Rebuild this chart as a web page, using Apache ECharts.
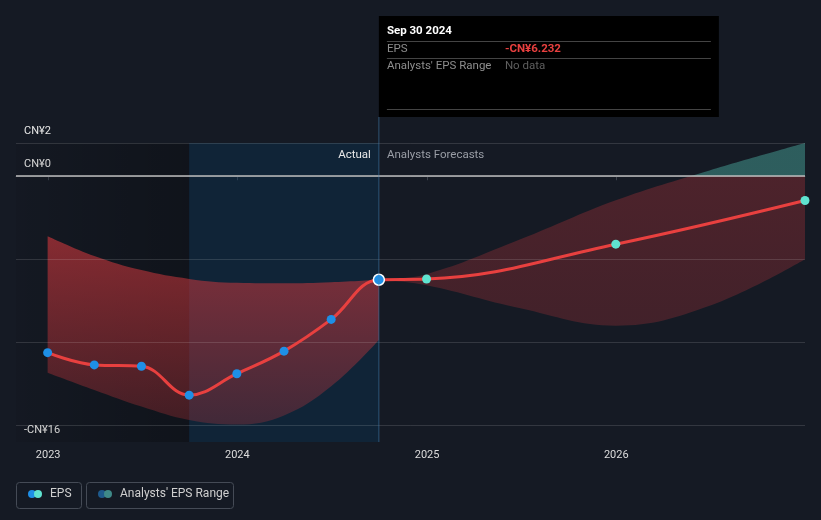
<!DOCTYPE html>
<html>
<head>
<meta charset="utf-8">
<script src="https://cdn.jsdelivr.net/npm/echarts@6/dist/echarts.min.js"></script>
<style>
  html, body { margin: 0; padding: 0; background: #151a24; }
  #chart { width: 821px; height: 520px; }
</style>
</head>
<body>
<div id="chart"></div>
<script>
  // EPS (CN¥) - reported quarters, then analyst forecasts
  var actualDates = ['2022-12-31', '2023-03-31', '2023-06-30', '2023-09-30', '2023-12-31', '2024-03-31', '2024-06-30', '2024-09-30'];
  var actualEps = [-10.62, -11.36, -11.44, -13.18, -11.89, -10.53, -8.62, -6.232];
  var forecastDates = ['2024-12-31', '2025-12-31', '2026-12-31'];
  var forecastEps = [-6.19, -4.09, -1.46];

  // analysts' range as it stood over the reported quarters
  var pastHigh = [-3.61, -4.8, -5.65, -6.18, -6.42, -6.45, -6.38, -6.23];
  var pastLow = [-11.83, -12.87, -13.87, -14.68, -14.95, -14.4, -12.65, -9.86];

  // analysts' range going forward
  var rangeDates = ['2024-09-30', '2024-12-31', '2025-06-30', '2025-12-31', '2026-06-30', '2026-12-31'];
  var rangeHigh = [-6.23, -5.9, -3.8, -1.45, 0.35, 2.0];
  var rangeLow = [-6.23, -6.56, -7.95, -9.0, -7.8, -5.0];

  var yLabelValues = [2, 0, -16];
  var gridValues = [2, -5, -10, -15];
  var xLabelYears = [2023, 2024, 2025, 2026];
  var hoverDate = '2024-09-30';
  var shadeFrom = '2023-09-30';
  var axisStart = '2022-10-31';

  function ts(s) {
    return Date.parse(s + 'T00:00:00Z');
  }
  function cny(v) {
    return v < 0 ? '-CN¥' + (-v) : 'CN¥' + v;
  }

  var BLUE = '#1e8fe6', TEAL = '#5fe3d0', RED = '#e8403f';
  var FONT = 'Roboto, "Noto Sans", sans-serif';

  var epsData = [];
  actualDates.forEach(function (d, i) {
    var p = { value: [ts(d), actualEps[i]], itemStyle: { color: BLUE } };
    if (d === hoverDate) {
      p.itemStyle = { color: BLUE, borderColor: '#ffffff', borderWidth: 1.5 };
      p.symbolSize = 11;
    }
    epsData.push(p);
  });
  forecastDates.forEach(function (d, i) {
    epsData.push({ value: [ts(d), forecastEps[i]], itemStyle: { color: TEAL } });
  });

  // band rows are [eps, date] so the stack runs on the eps values
  var pastLowData = actualDates.map(function (d, i) { return [pastLow[i], ts(d)]; });
  var pastBandData = actualDates.map(function (d, i) { return [pastHigh[i] - pastLow[i], ts(d)]; });
  var fcLowData = rangeDates.map(function (d, i) { return [rangeLow[i], ts(d)]; });
  var fcBandData = rangeDates.map(function (d, i) { return [rangeHigh[i] - rangeLow[i], ts(d)]; });
  var yearTicks = xLabelYears.map(function (y) { return Date.UTC(y, 0, 1); });

  var xMin = ts(axisStart);
  var xMax = ts(forecastDates[forecastDates.length - 1]);
  var xHover = ts(hoverDate);
  var xShade = ts(shadeFrom);

  var hidden = {
    lineStyle: { opacity: 0 }, symbol: 'none', smooth: 0.4, silent: true,
    encode: { x: 1, y: 0 }, stackStrategy: 'all', z: 2
  };

  var myChart = echarts.init(document.getElementById('chart'));
  var option = {
    backgroundColor: '#151a24',
    animation: false,
    grid: { left: 16, right: 16, top: 143, bottom: 78 },
    xAxis: {
      type: 'value',
      min: xMin,
      max: xMax,
      splitLine: { show: false },
      axisLine: { lineStyle: { color: '#3b414b' } },
      axisTick: { customValues: yearTicks, length: 4, lineStyle: { color: '#3b414b' } },
      axisLabel: {
        customValues: yearTicks,
        color: '#dcdcdc', fontSize: 11, fontFamily: FONT, margin: 8,
        formatter: function (v) { return String(new Date(v).getUTCFullYear()); }
      }
    },
    yAxis: {
      type: 'value',
      min: -16,
      max: 2,
      splitLine: { show: false },
      axisLine: { show: false },
      axisTick: { show: false },
      axisLabel: {
        customValues: yLabelValues,
        inside: true, margin: 8,
        verticalAlign: 'bottom',
        padding: [0, 0, 6, 0],
        color: '#e6e6e6', fontSize: 11, fontFamily: FONT,
        formatter: cny
      }
    },
    series: [
      {
        name: 'shade', type: 'line', data: [], z: 1, silent: true,
        markArea: {
          silent: true,
          data: [
            [{ xAxis: xMin, yAxis: 2, itemStyle: { color: {
                type: 'linear', x: 0, y: 0, x2: 1, y2: 0,
                colorStops: [{ offset: 0, color: 'rgba(0,0,0,0.06)' }, { offset: 1, color: 'rgba(0,0,0,0.26)' }]
              } } }, { xAxis: xShade, yAxis: -16 }],
            [{ xAxis: xShade, yAxis: 2, itemStyle: { color: 'rgba(8,60,100,0.3)' } }, { xAxis: xHover, yAxis: -16 }]
          ]
        }
      },
      Object.assign({ name: 'pastLow', type: 'line', stack: 'past', data: pastLowData }, hidden),
      Object.assign({
        name: 'pastBand', type: 'line', stack: 'past', data: pastBandData,
        areaStyle: { opacity: 1, color: {
          type: 'linear', x: 0, y: 0, x2: 0, y2: 1,
          colorStops: [{ offset: 0, color: 'rgba(205,55,60,0.62)' }, { offset: 1, color: 'rgba(205,55,60,0.26)' }]
        } }
      }, hidden),
      Object.assign({ name: 'fcLow', type: 'line', stack: 'fc', data: fcLowData }, hidden),
      Object.assign({
        name: 'fcBand', type: 'line', stack: 'fc', data: fcBandData,
        areaStyle: { opacity: 1, color: 'rgba(205,55,60,0.3)' }
      }, hidden),
      {
        name: 'grid', type: 'line', data: [], z: 3, silent: true,
        markLine: {
          silent: true, symbol: 'none', label: { show: false },
          lineStyle: { type: 'solid', color: 'rgba(255,255,255,0.13)', width: 1 },
          data: gridValues.map(function (v) { return { yAxis: v }; }).concat([
            { yAxis: 0, lineStyle: { type: 'solid', color: '#bdbdbd', width: 1.5 } }
          ])
        }
      },
      {
        name: 'EPS', type: 'line', data: epsData, z: 5,
        smooth: 0.4,
        symbol: 'circle', symbolSize: 9, showSymbol: true,
        lineStyle: { color: RED, width: 3 }
      }
    ]
  };
  myChart.setOption(option);

  // split the forward range colour at zero, positions come from the y scale
  var yTop = myChart.convertToPixel({ yAxisIndex: 0 }, 2);
  var yZero = myChart.convertToPixel({ yAxisIndex: 0 }, 0);
  var yBottom = myChart.convertToPixel({ yAxisIndex: 0 }, -16);
  var k = (yZero - yTop) / (yBottom - yTop);
  var px = myChart.convertToPixel({ xAxisIndex: 0 }, xHover);

  myChart.setOption({
    series: [{}, {}, {}, {},
      { areaStyle: { opacity: 1, color: {
        type: 'linear', x: 0, y: yTop, x2: 0, y2: yBottom, global: true,
        colorStops: [
          { offset: 0, color: 'rgba(70,160,150,0.5)' },
          { offset: k, color: 'rgba(70,160,150,0.5)' },
          { offset: k, color: 'rgba(205,55,60,0.3)' },
          { offset: 1, color: 'rgba(205,55,60,0.2)' }
        ]
      } } }
    ],
    graphic: [
      // hover line and tooltip
      { type: 'line', z: 10, shape: { x1: px, y1: 117, x2: px, y2: yBottom }, style: { stroke: 'rgba(70,130,180,0.55)', lineWidth: 1 }, silent: true },
      { type: 'text', z: 10, style: { x: px - 8, y: 155, text: 'Actual', fill: '#e8e8e8', font: '11.5px ' + FONT, align: 'right', verticalAlign: 'middle' } },
      { type: 'text', z: 10, style: { x: px + 8, y: 155, text: 'Analysts Forecasts', fill: '#9a9ea6', font: '11.5px ' + FONT, align: 'left', verticalAlign: 'middle' } },
      { type: 'rect', z: 20, shape: { x: px, y: 16, width: 340, height: 101 }, style: { fill: '#000000' } },
      { type: 'text', z: 21, style: { x: px + 8, y: 31.5, text: 'Sep 30 2024', fill: '#ffffff', font: 'bold 11.5px ' + FONT, verticalAlign: 'middle' } },
      { type: 'line', z: 21, shape: { x1: px + 8, y1: 41.5, x2: px + 332, y2: 41.5 }, style: { stroke: '#444444', lineWidth: 1 } },
      { type: 'text', z: 21, style: { x: px + 8, y: 49.5, text: 'EPS', fill: '#8e8e8e', font: '11.5px ' + FONT, verticalAlign: 'middle' } },
      { type: 'text', z: 21, style: { x: px + 126, y: 49.5, text: cny(actualEps[actualEps.length - 1]), fill: '#e8403f', font: 'bold 11.5px ' + FONT, verticalAlign: 'middle' } },
      { type: 'line', z: 21, shape: { x1: px + 8, y1: 58.5, x2: px + 332, y2: 58.5 }, style: { stroke: '#444444', lineWidth: 1 } },
      { type: 'text', z: 21, style: { x: px + 8, y: 66.5, text: "Analysts' EPS Range", fill: '#8e8e8e', font: '11.5px ' + FONT, verticalAlign: 'middle' } },
      { type: 'text', z: 21, style: { x: px + 126, y: 66.5, text: 'No data', fill: '#5f5f5f', font: '11.5px ' + FONT, verticalAlign: 'middle' } },
      { type: 'line', z: 21, shape: { x1: px + 8, y1: 109.5, x2: px + 332, y2: 109.5 }, style: { stroke: '#444444', lineWidth: 1 } },
      // legend
      { type: 'rect', shape: { x: 16.5, y: 482.5, width: 65, height: 26, r: 3 }, style: { fill: 'none', stroke: '#454b56', lineWidth: 1 } },
      { type: 'circle', shape: { cx: 32, cy: 494, r: 4 }, style: { fill: BLUE } },
      { type: 'circle', shape: { cx: 38, cy: 494, r: 4 }, style: { fill: TEAL } },
      { type: 'text', style: { x: 50, y: 494, text: 'EPS', fill: '#cfcfcf', font: '12px ' + FONT, verticalAlign: 'middle' } },
      { type: 'rect', shape: { x: 86.5, y: 482.5, width: 147, height: 26, r: 3 }, style: { fill: 'none', stroke: '#454b56', lineWidth: 1 } },
      { type: 'circle', shape: { cx: 102, cy: 494, r: 4 }, style: { fill: '#1e5a8c' } },
      { type: 'circle', shape: { cx: 108, cy: 494, r: 4 }, style: { fill: '#3f8a88' } },
      { type: 'text', style: { x: 120, y: 494, text: "Analysts' EPS Range", fill: '#cfcfcf', font: '12px ' + FONT, verticalAlign: 'middle' } }
    ]
  });

  window.onresize = function () {
    myChart.resize();
  };
</script>
</body>
</html>
